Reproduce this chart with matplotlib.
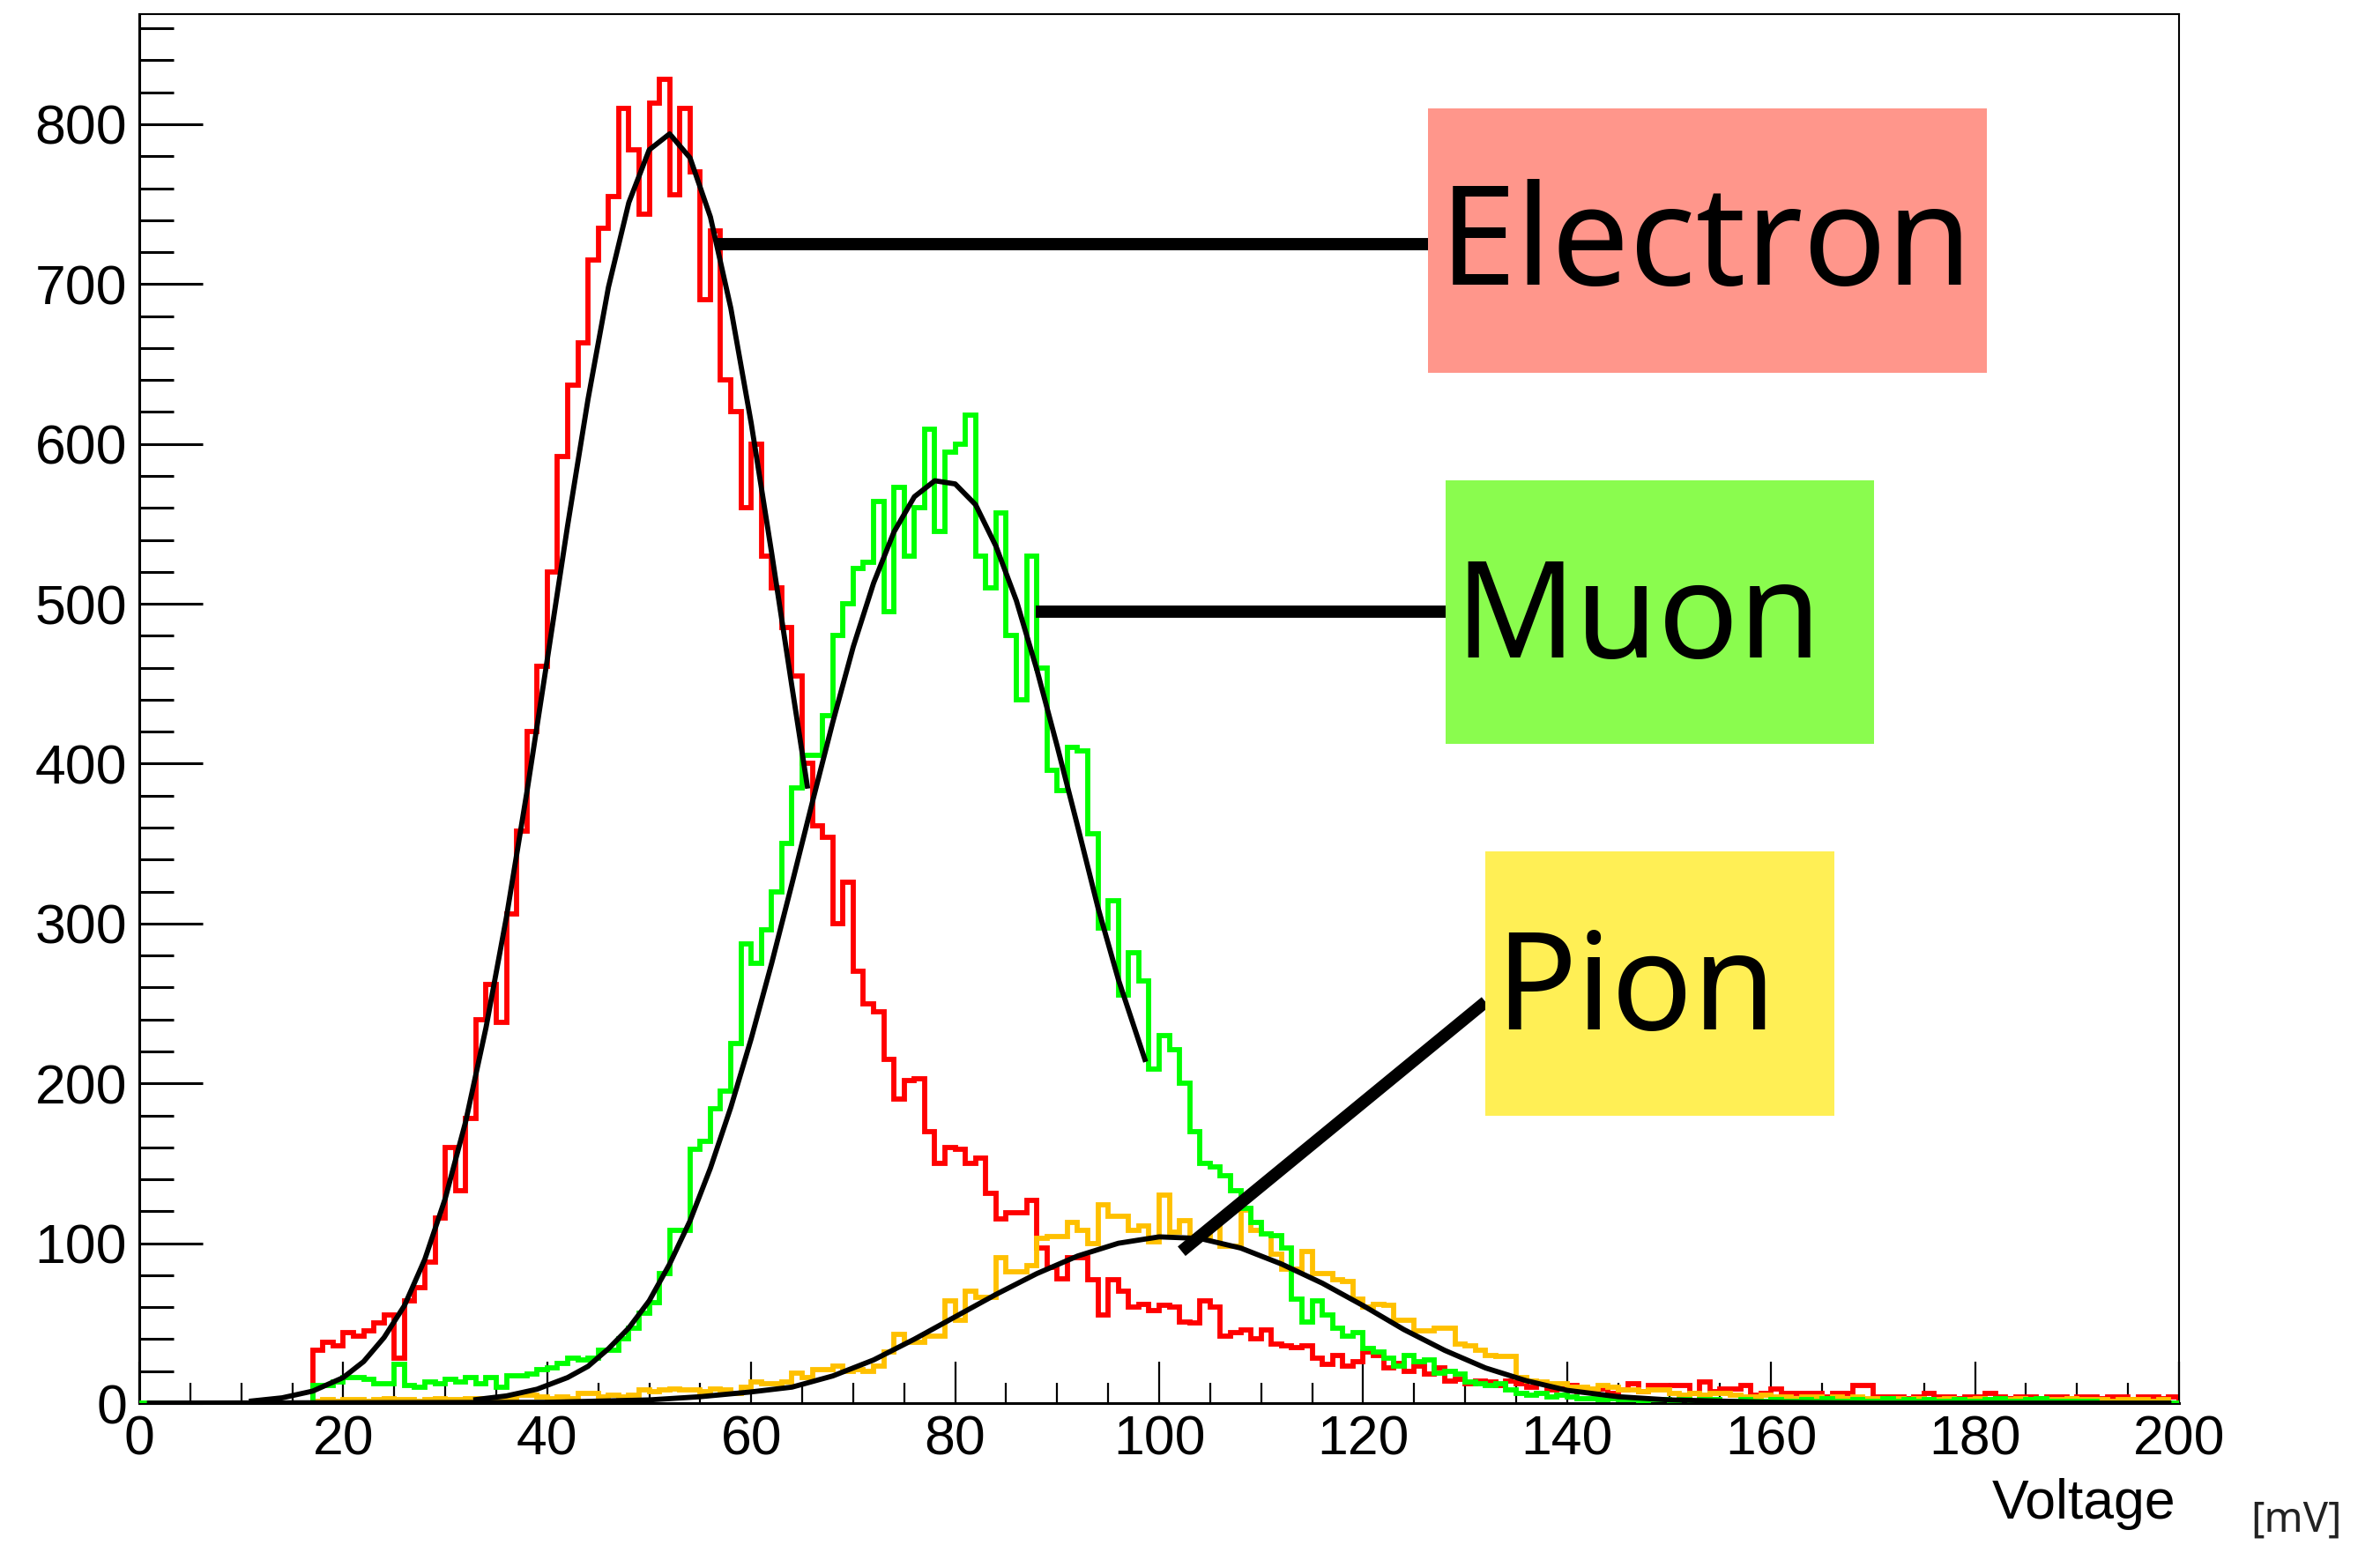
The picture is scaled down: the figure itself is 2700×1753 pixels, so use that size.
import matplotlib
matplotlib.use("Agg")
import matplotlib.pyplot as plt
from matplotlib.patches import Rectangle
from matplotlib.ticker import MultipleLocator
import numpy as np

plt.rcParams["font.family"] = ["Liberation Sans", "DejaVu Sans"]

# 1 mV bins from 0 to 200 mV
BIN_EDGES = np.linspace(0, 200, 201)

electron_counts = [
    0, 0, 0, 0, 0, 0, 0, 0, 0, 0, 0, 0, 0, 0, 0, 0, 0, 33, 38, 36,
    44, 42, 45, 50, 55, 28, 64, 72, 88, 116, 160, 133, 178, 240, 262, 238, 306, 358, 420, 461,
    520, 592, 637, 663, 715, 735, 755, 810, 784, 744, 813, 828, 756, 810, 770, 690, 733, 640, 620, 560,
    600, 530, 510, 485, 455, 400, 361, 354, 300, 326, 270, 250, 245, 215, 190, 202, 203, 170, 150, 160,
    159, 150, 153, 131, 115, 119, 119, 127, 97, 85, 78, 91, 91, 77, 55, 77, 70, 60, 62, 58,
    61, 60, 51, 50, 64, 60, 42, 44, 46, 40, 46, 37, 36, 35, 36, 28, 24, 30, 23, 26,
    32, 30, 22, 25, 20, 23, 18, 22, 14, 15, 12, 14, 13, 11, 14, 12, 10, 12, 8, 9,
    11, 7, 8, 9, 6, 8, 12, 7, 11, 11, 11, 11, 6, 13, 7, 9, 9, 11, 5, 6,
    9, 6, 6, 6, 6, 4, 6, 6, 11, 11, 4, 4, 4, 3, 4, 6, 4, 4, 3, 4,
    4, 6, 4, 3, 4, 4, 3, 4, 4, 3, 4, 4, 3, 4, 4, 2, 4, 4, 3, 4,
]

muon_counts = [
    0, 0, 0, 0, 0, 0, 0, 0, 0, 0, 0, 0, 0, 0, 0, 0, 0, 11, 11, 13,
    16, 16, 15, 12, 12, 24, 11, 10, 13, 12, 15, 13, 16, 12, 16, 10, 17, 17, 18, 21,
    22, 25, 28, 27, 28, 33, 33, 40, 47, 56, 63, 81, 108, 108, 159, 164, 184, 195, 225, 287,
    275, 296, 320, 350, 385, 405, 405, 430, 480, 500, 522, 526, 564, 495, 573, 530, 560, 609, 545, 595,
    600, 618, 530, 510, 557, 480, 440, 530, 460, 396, 383, 410, 408, 356, 297, 314, 255, 282, 264, 209,
    230, 221, 200, 170, 150, 148, 142, 133, 122, 113, 106, 105, 97, 65, 51, 64, 55, 47, 42, 44,
    34, 32, 28, 23, 30, 26, 27, 19, 20, 18, 13, 12, 11, 12, 8, 6, 5, 6, 4, 5,
    4, 3, 3, 2, 3, 2, 2, 1, 2, 2, 1, 2, 1, 2, 2, 1, 1, 2, 1, 1,
    2, 1, 1, 2, 1, 3, 1, 1, 2, 1, 1, 3, 1, 2, 1, 2, 1, 1, 2, 1,
    1, 2, 3, 1, 1, 2, 3, 1, 1, 1, 1, 1, 0, 0, 0, 0, 0, 0, 0, 0,
]

pion_counts = [
    0, 0, 0, 0, 0, 0, 0, 0, 0, 0, 0, 0, 0, 0, 0, 0, 0, 1, 2, 1,
    2, 2, 1, 2, 3, 2, 2, 1, 2, 3, 2, 2, 3, 3, 2, 3, 3, 5, 5, 4,
    3, 4, 3, 6, 6, 4, 5, 4, 5, 8, 7, 8, 9, 8, 8, 7, 9, 8, 6, 10,
    13, 12, 12, 13, 19, 16, 21, 21, 23, 20, 21, 20, 23, 32, 43, 38, 38, 42, 42, 64,
    52, 70, 66, 66, 91, 82, 82, 86, 103, 104, 104, 113, 108, 100, 124, 117, 117, 108, 111, 101,
    130, 107, 114, 104, 104, 111, 98, 98, 121, 108, 106, 93, 84, 84, 95, 81, 81, 77, 76, 65,
    60, 62, 61, 52, 52, 45, 45, 47, 47, 37, 36, 33, 30, 29, 29, 16, 14, 13, 12, 12,
    10, 10, 9, 11, 10, 8, 8, 7, 8, 8, 6, 5, 6, 5, 6, 6, 5, 4, 4, 5,
    4, 4, 3, 4, 4, 3, 4, 3, 4, 3, 3, 2, 3, 2, 3, 2, 2, 3, 2, 2,
    3, 2, 2, 2, 3, 2, 2, 2, 2, 3, 2, 2, 2, 1, 2, 2, 2, 1, 2, 0,
]

# fitted curves
electron_fit_x = [11, 14, 17, 20, 22, 24, 26, 28, 30, 32, 34, 36, 38, 40, 42, 44, 46, 48,
                  50, 52, 54, 56, 58, 60, 62, 64, 65.5]
electron_fit_y = [1.3, 3.3, 7.5, 16, 26, 41, 61, 90, 128, 176, 235, 304, 382, 465, 549, 628,
                  698, 751, 784, 794, 779, 742, 685, 613, 532, 448, 386]

muon_fit_x = [33, 36, 39, 42, 44, 46, 48, 50, 52, 54, 56, 58, 60, 62, 64, 66, 68, 70, 72,
              74, 76, 78, 80, 82, 84, 86, 88, 90, 92, 94, 96, 98.6]
muon_fit_y = [2.2, 4.5, 8.7, 16, 23, 34, 47, 64, 87, 114, 147, 185, 228, 275, 325, 376, 426,
              473, 513, 545, 567, 577, 575, 562, 536, 502, 459, 411, 361, 310, 265, 215]

pion_fit_x = [1, 40, 50, 55, 60, 64, 68, 72, 76, 80, 84, 88, 92, 96, 100, 104, 108, 112,
              116, 120, 124, 128, 132, 136, 140, 145, 150, 160, 170, 199]
pion_fit_y = [0, 0.5, 2, 4, 7, 10, 17, 27, 40, 54, 68, 81, 92, 100, 104, 103, 97, 87, 75,
              61, 46, 33, 22, 14, 8, 4, 2, 0.5, 0, 0]

labels = ["Electron", "Muon", "Pion"]
box_colors = ["#ff968b", "#8afc4e", "#ffef55"]

fig = plt.figure(figsize=(27, 17.53), dpi=100)
ax = fig.add_axes([0.05852, 0.09184, 0.85704, 0.89903])

ax.stairs(electron_counts, BIN_EDGES, color="#ff0000", lw=4.2, zorder=2)
ax.stairs(pion_counts, BIN_EDGES, color="#ffc000", lw=4.2, zorder=3)
ax.stairs(muon_counts, BIN_EDGES, color="#00ff00", lw=4.2, zorder=4)

for fx, fy in [(electron_fit_x, electron_fit_y), (muon_fit_x, muon_fit_y), (pion_fit_x, pion_fit_y)]:
    ax.plot(fx, fy, color="black", lw=4.2, zorder=5)

ax.set_xlim(0, 200)
ax.set_ylim(0, 868.9)

# labels with boxes and pointer lines
boxes = [(126.4, 644.4, 54.8, 165.4), (128.1, 412.3, 42.0, 164.9), (132.0, 179.7, 34.2, 165.4)]
text_pos = [(127.5, 699.6), (129.0, 466.4), (132.9, 233.7)]
text_size = [113, 109, 110]
pointers = [((56.6, 126.4), (725, 725)), ((87.9, 128.1), (495, 495)), ((102.2, 132.0), (95, 251))]

for lab, col, (bx, by, bw, bh), (tx, ty), fs, (px, py) in zip(labels, box_colors, boxes, text_pos,
                                                             text_size, pointers):
    ax.plot(px, py, color="black", lw=10, solid_capstyle="butt", zorder=6)
    ax.add_patch(Rectangle((bx, by), bw, bh, facecolor=col, edgecolor="none", zorder=7))
    ax.text(tx, ty, lab, fontsize=fs, family="Noto Sans", va="baseline", ha="left", zorder=8)

ax.xaxis.set_major_locator(MultipleLocator(20))
ax.xaxis.set_minor_locator(MultipleLocator(5))
ax.yaxis.set_major_locator(MultipleLocator(100))
ax.yaxis.set_minor_locator(MultipleLocator(20))

ax.tick_params(axis="both", which="both", direction="in", labelsize=45)
ax.tick_params(axis="x", which="major", length=34, width=1.6, pad=9)
ax.tick_params(axis="x", which="minor", length=16.5, width=1.6)
ax.tick_params(axis="y", which="major", length=52, width=2.2, pad=10)
ax.tick_params(axis="y", which="minor", length=28, width=2.2)

for side in ["left", "bottom"]:
    ax.spines[side].set_linewidth(2.2)
for side in ["top", "right"]:
    ax.spines[side].set_linewidth(1.5)

fig.text(2468 / 2700, 1 - 1723 / 1753, "Voltage", fontsize=45, ha="right", va="baseline")
fig.text(2553 / 2700, 1 - 1738 / 1753, "[mV]", fontsize=34, family="Noto Sans",
         color="#222222", ha="left", va="baseline")

fig.savefig("out.png", dpi=100)
plt.close(fig)
